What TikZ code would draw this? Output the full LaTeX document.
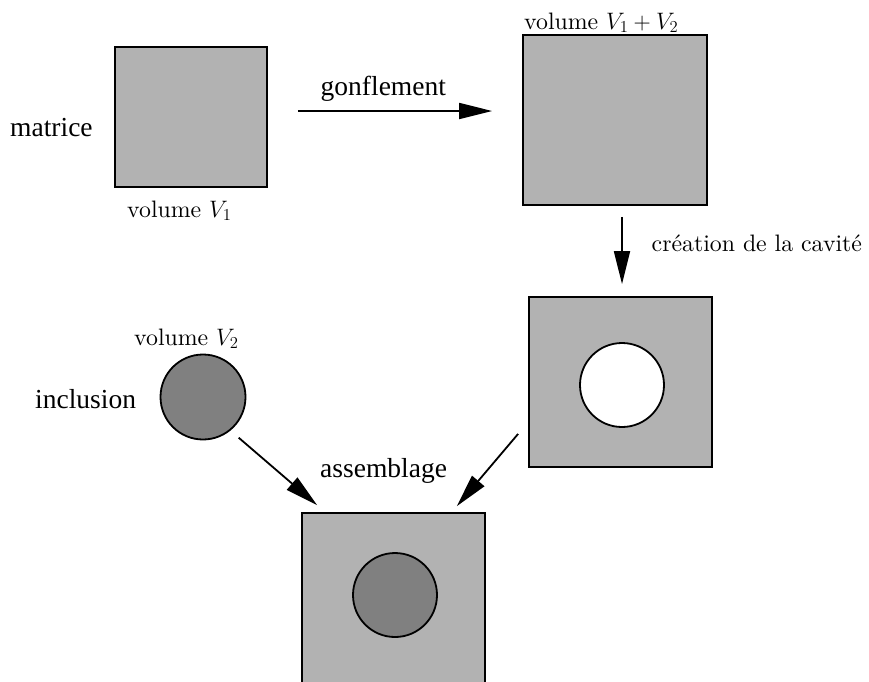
\RequirePackage{fix-cm}
\documentclass[tikz,border=0pt]{standalone}
\usepackage{fontspec}
\setmainfont{lmroman10-regular.otf}[ItalicFont=lmroman10-italic.otf, BoldFont=lmroman10-bold.otf]
\newfontfamily\tms{Liberation Serif}
\usetikzlibrary{arrows.meta}

\definecolor{matgray}{gray}{0.70}
\definecolor{incgray}{gray}{0.50}

\tikzset{
  block/.style={draw=black, line width=1.8pt, fill=matgray, inner sep=0pt},
  ball/.style={circle, draw=black, line width=1.8pt, inner sep=0pt, minimum size=#1},
  bigtext/.style={inner sep=0pt, anchor=base west, font=\tms\fontsize{27.5}{33}\selectfont},
  cmtext/.style={inner sep=0pt, anchor=base west, font=\fontsize{23.8}{28}\selectfont},
  flow/.style={line width=1.8pt, -{Triangle[length=33pt,width=16pt]}}
}

\begin{document}
\begin{tikzpicture}[x=1pt, y=-1pt]
  \useasboundingbox (0,0) rectangle (869,681);
  \clip (0,0) rectangle (869,681);

  % matrix before swelling
  \node[block, minimum width=152pt, minimum height=140pt] (box1) at (191,117) {};
  \node[bigtext] (matrice) at (10,136) {matrice};
  \node[cmtext] (vol1) at (127,217) {volume $V_1$};

  % swollen matrix
  \node[block, minimum width=184pt, minimum height=170pt] (box2) at (615,120) {};
  \node[cmtext] (vol12) at (524,29) {volume $V_1 + V_2$};
  \node[bigtext] (gonfl) at (320.5,95) {gonflement};

  % matrix with cavity
  \node[block, minimum width=183pt, minimum height=170pt] (box3) at (620.5,382) {};
  \node[ball=84pt, fill=white] (hole) at (622,385) {};
  \node[cmtext] (creation) at (651.5,251) {création de la cavité};

  % inclusion
  \node[ball=85pt, fill=incgray] (incl) at (203,397) {};
  \node[cmtext] (vol2) at (134,345) {volume $V_2$};
  \node[bigtext] (inclusion) at (35,408) {inclusion};

  % assembled composite
  \node[block, minimum width=183pt, minimum height=170pt] (box4) at (393.5,598) {};
  \node[ball=84pt, fill=incgray] (filled) at (395,595) {};
  \node[bigtext] (assemb) at (320,477) {assemblage};

  % process arrows
  \draw[flow] ([xshift=30pt,yshift=6pt]box1.east) -- ([xshift=-30pt,yshift=9pt]box2.west);
  \draw[flow] ([xshift=7pt,yshift=-11pt]box2.south) -- ([xshift=1.5pt,yshift=12pt]box3.north);
  \draw[flow] ([xshift=5pt,yshift=-10pt]incl.south east) -- ([xshift=16pt,yshift=7pt]box4.north west);
  \draw[flow] ([xshift=-10pt,yshift=34pt]box3.south west) -- ([xshift=-29pt,yshift=6pt]box4.north east);
\end{tikzpicture}
\end{document}
